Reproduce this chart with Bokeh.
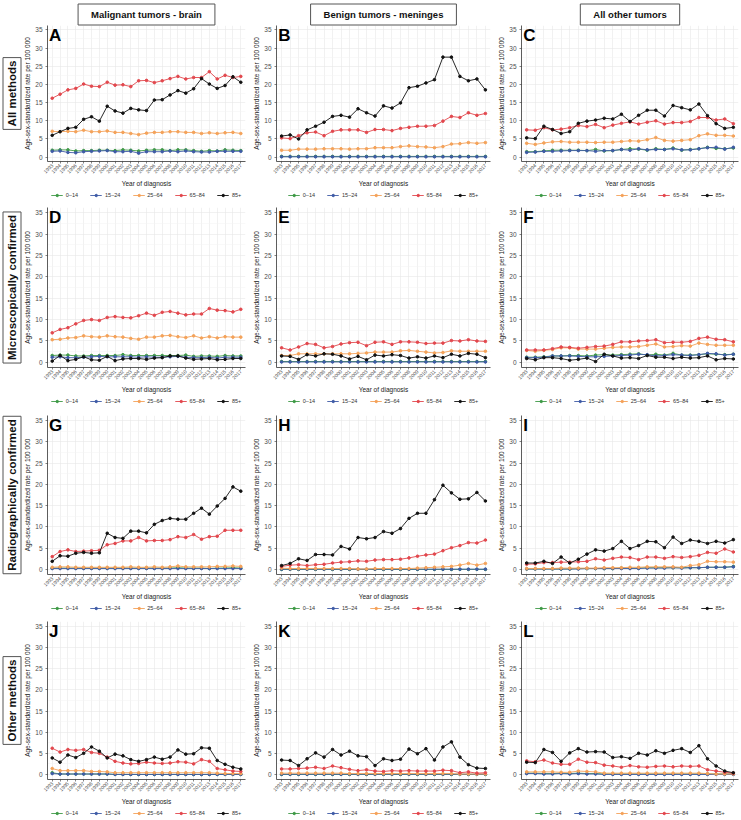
import math
from bokeh.plotting import figure
from bokeh.models import Range1d, FixedTicker, Legend, LegendItem, Label, Title
from bokeh.layouts import column, row
from bokeh.embed import file_html
from bokeh.resources import INLINE

years = list(range(1993, 2018))
age_groups = ["0\u201314", "15\u201324", "25\u201364", "65\u201384", "85+"]
age_colors = ["#3f9a47", "#3f5ba6", "#f4a259", "#e2474d", "#111111"]
col_titles = ["Malignant tumors - brain", "Benign tumors - meninges", "All other tumors"]
row_titles = ["All methods", "Microscopically confirmed", "Radiographically confirmed", "Other methods"]
panel_letters = ["A", "B", "C", "D", "E", "F", "G", "H", "I", "J", "K", "L"]
y_ticks = [0, 5, 10, 15, 20, 25, 30, 35]
y_minor = [2.5, 7.5, 12.5, 17.5, 22.5, 27.5, 32.5]

# ---- Panel A: malignant brain, all methods
A_0_14 = [1.9, 2.0, 2.0, 1.7, 1.8, 1.8, 1.9, 1.9, 1.8, 2.0, 1.9, 1.7, 1.9, 2.0, 2.0, 1.8, 2.0, 2.0, 1.8, 1.6, 1.8, 1.7, 2.0, 1.9, 1.8]
A_15_24 = [1.6, 1.7, 1.3, 1.2, 1.5, 1.6, 1.7, 1.8, 1.5, 1.5, 1.6, 1.1, 1.5, 1.5, 1.5, 1.7, 1.5, 1.7, 1.5, 1.4, 1.4, 1.6, 1.6, 1.6, 1.6]
A_25_64 = [7.1, 7.0, 7.1, 7.0, 7.4, 7.0, 7.0, 7.2, 6.8, 6.8, 6.5, 6.2, 6.6, 6.8, 6.8, 7.0, 7.0, 6.8, 6.8, 6.5, 6.7, 6.5, 6.7, 6.8, 6.5]
A_65_84 = [16.2, 17.3, 18.5, 18.9, 20.1, 19.5, 19.4, 20.6, 19.8, 19.9, 19.4, 21.0, 21.1, 20.5, 21.0, 21.6, 22.2, 21.5, 21.9, 21.9, 23.5, 21.5, 22.5, 21.9, 22.2]
A_85 = [6.0, 7.0, 7.9, 8.2, 10.4, 11.1, 9.9, 14.0, 12.7, 12.1, 13.4, 13.0, 12.8, 15.7, 15.8, 17.1, 18.3, 17.6, 18.8, 21.6, 20.1, 18.9, 19.7, 22.1, 20.6]

# ---- Panel B: benign meninges, all methods
B_0_14 = [0.2] * 25
B_15_24 = [0.1] * 25
B_25_64 = [1.9, 1.9, 2.2, 2.2, 2.2, 2.3, 2.3, 2.3, 2.2, 2.3, 2.3, 2.6, 2.6, 2.6, 2.9, 3.1, 2.9, 2.8, 2.6, 2.9, 3.6, 3.7, 4.0, 3.8, 4.0]
B_65_84 = [5.3, 5.1, 5.9, 6.7, 6.9, 5.9, 7.1, 7.5, 7.5, 7.5, 6.8, 7.6, 7.6, 7.3, 7.9, 8.2, 8.5, 8.5, 8.7, 9.9, 11.2, 10.9, 12.2, 11.5, 12.0]
B_85 = [5.8, 6.1, 5.0, 7.5, 8.5, 9.6, 11.2, 11.5, 11.0, 13.3, 12.2, 11.3, 14.1, 13.5, 14.9, 19.1, 19.5, 20.4, 21.3, 27.5, 27.5, 22.2, 21.0, 21.5, 18.5]

# ---- Panel C: all other tumors, all methods
C_0_14 = [1.5, 1.5, 1.7, 1.9, 1.9, 1.9, 1.9, 1.8, 2.1, 1.7, 1.8, 2.1, 2.3, 2.2, 1.9, 2.3, 2.1, 2.5, 1.9, 2.1, 2.3, 2.7, 2.4, 2.3, 2.5]
C_15_24 = [1.3, 1.4, 1.6, 1.6, 1.7, 1.8, 1.8, 1.8, 1.6, 1.8, 1.8, 2.1, 1.9, 2.3, 2.0, 2.1, 2.1, 2.3, 2.0, 2.0, 2.3, 2.6, 2.7, 2.2, 2.7]
C_25_64 = [3.8, 3.5, 3.9, 4.2, 4.3, 4.1, 4.1, 4.1, 4.0, 4.1, 4.1, 4.3, 4.5, 4.4, 4.8, 5.4, 4.6, 4.4, 4.6, 4.8, 5.9, 6.4, 6.0, 6.0, 5.8]
C_65_84 = [7.5, 7.4, 8.1, 7.5, 7.7, 8.1, 8.7, 8.4, 9.0, 8.1, 8.8, 9.3, 9.7, 9.1, 9.6, 10.0, 9.1, 9.5, 9.5, 9.8, 10.9, 10.9, 10.2, 10.5, 9.2]
C_85 = [5.3, 5.1, 8.5, 7.6, 6.5, 7.0, 9.3, 9.9, 10.2, 10.7, 10.5, 11.8, 9.8, 11.5, 12.9, 12.9, 11.3, 14.2, 13.6, 13.0, 14.6, 11.4, 9.2, 7.9, 8.2]

# ---- Panel D: malignant brain, microscopically confirmed
D_0_14 = [1.6, 1.7, 1.7, 1.5, 1.5, 1.6, 1.6, 1.6, 1.6, 1.8, 1.6, 1.6, 1.6, 1.6, 1.6, 1.6, 1.6, 1.7, 1.4, 1.5, 1.5, 1.4, 1.6, 1.5, 1.5]
D_15_24 = [1.2, 1.3, 1.1, 1.1, 1.2, 1.3, 1.4, 1.3, 1.3, 1.3, 1.3, 1.2, 1.3, 1.2, 1.2, 1.3, 1.4, 1.2, 1.1, 1.1, 1.2, 1.0, 1.2, 1.2, 1.2]
D_25_64 = [5.3, 5.4, 5.7, 5.8, 6.2, 6.0, 5.9, 6.2, 6.0, 5.9, 5.6, 5.4, 5.9, 5.9, 6.2, 6.3, 6.0, 5.8, 6.2, 5.7, 6.0, 5.7, 6.0, 5.9, 5.9]
D_65_84 = [6.9, 7.7, 8.1, 9.0, 9.8, 10.0, 9.8, 10.5, 10.7, 10.5, 10.4, 10.9, 11.5, 11.0, 11.7, 11.9, 11.5, 11.1, 11.3, 11.3, 12.6, 12.2, 12.1, 11.8, 12.4]
D_85 = [0.3, 1.6, 0.4, 0.7, 1.3, 0.6, 0.5, 1.4, 0.4, 0.8, 0.9, 0.9, 0.7, 1.0, 1.1, 1.5, 1.5, 1.0, 0.7, 0.8, 0.9, 0.6, 0.7, 0.9, 0.9]

# ---- Panel E: benign meninges, microscopically confirmed
E_0_14 = [0.2] * 25
E_15_24 = [0.1] * 25
E_25_64 = [1.6, 1.6, 2.0, 2.0, 2.0, 2.0, 2.0, 2.0, 2.0, 2.1, 2.2, 2.4, 2.4, 2.4, 2.7, 2.8, 2.6, 2.4, 2.2, 2.3, 2.7, 2.6, 2.6, 2.6, 2.6]
E_65_84 = [3.4, 2.9, 3.6, 4.4, 4.2, 3.4, 3.7, 4.3, 4.6, 4.7, 3.9, 4.7, 4.8, 4.2, 4.8, 4.8, 4.7, 4.4, 4.5, 4.5, 5.1, 5.0, 5.3, 5.0, 4.9]
E_85 = [1.5, 1.4, 0.7, 1.8, 1.5, 2.0, 1.9, 1.5, 0.8, 1.4, 0.6, 1.7, 1.5, 1.8, 1.6, 1.0, 1.3, 1.0, 1.5, 1.1, 1.9, 1.5, 2.1, 1.9, 1.1]

# ---- Panel F: all other tumors, microscopically confirmed
F_0_14 = [1.2, 1.2, 1.3, 1.5, 1.5, 1.6, 1.6, 1.5, 1.7, 1.8, 1.7, 1.8, 1.9, 2.0, 1.7, 1.9, 1.7, 2.1, 1.7, 1.7, 1.8, 2.0, 1.9, 1.8, 1.9]
F_15_24 = [1.1, 1.1, 1.2, 1.5, 1.5, 1.5, 1.4, 1.3, 1.3, 1.4, 1.5, 1.6, 1.7, 1.9, 1.8, 1.5, 1.6, 1.8, 1.7, 1.6, 1.8, 2.1, 2.0, 1.7, 1.9]
F_25_64 = [2.8, 2.6, 2.8, 3.0, 3.4, 3.4, 3.1, 3.1, 3.1, 3.3, 3.5, 3.6, 3.6, 3.7, 4.0, 4.3, 3.6, 3.7, 3.9, 3.8, 4.5, 4.2, 4.0, 4.0, 4.0]
F_65_84 = [2.9, 2.9, 2.9, 3.2, 3.6, 3.5, 3.3, 3.5, 3.7, 3.8, 4.2, 4.8, 4.8, 5.0, 5.1, 5.3, 4.6, 4.7, 4.7, 4.9, 5.6, 5.9, 5.4, 5.3, 4.8]
F_85 = [0.9, 0.6, 1.1, 1.1, 0.9, 0.5, 0.7, 1.0, 0.2, 1.9, 1.5, 1.0, 1.1, 0.9, 1.6, 1.2, 1.2, 0.9, 1.2, 1.0, 1.1, 1.5, 0.6, 0.9, 0.8]

# ---- Panel G: malignant brain, radiographically confirmed
G_0_14 = [0.3, 0.3, 0.3, 0.3, 0.3, 0.3, 0.3, 0.3, 0.3, 0.3, 0.3, 0.3, 0.3, 0.3, 0.3, 0.3, 0.4, 0.3, 0.3, 0.3, 0.2, 0.3, 0.3, 0.4, 0.3]
G_15_24 = [0.2] * 25
G_25_64 = [0.5, 0.6, 0.6, 0.5, 0.5, 0.5, 0.5, 0.5, 0.5, 0.5, 0.6, 0.5, 0.5, 0.6, 0.5, 0.6, 0.8, 0.6, 0.6, 0.6, 0.6, 0.7, 0.7, 0.8, 0.7]
G_65_84 = [3.0, 4.2, 4.6, 4.2, 4.3, 4.4, 4.5, 5.8, 6.1, 6.7, 6.7, 7.5, 6.7, 6.8, 6.8, 7.0, 7.7, 7.5, 8.2, 7.1, 7.7, 7.8, 9.2, 9.2, 9.2]
G_85 = [1.9, 3.2, 3.1, 3.8, 4.0, 3.8, 3.9, 8.5, 7.5, 7.3, 9.0, 9.0, 8.6, 10.6, 11.5, 12.0, 11.8, 11.8, 13.2, 14.4, 13.0, 14.9, 16.7, 19.4, 18.4]

# ---- Panel H: benign meninges, radiographically confirmed
H_0_14 = [0.0] * 25
H_15_24 = [0.05] * 25
H_25_64 = [0.3, 0.2, 0.2, 0.2, 0.2, 0.2, 0.2, 0.2, 0.2, 0.1, 0.1, 0.2, 0.2, 0.2, 0.2, 0.2, 0.3, 0.4, 0.5, 0.6, 0.7, 1.0, 1.4, 1.0, 1.4]
H_65_84 = [0.7, 1.0, 1.1, 0.9, 1.1, 1.2, 1.5, 1.7, 1.8, 2.0, 1.9, 2.2, 2.3, 2.3, 2.4, 2.7, 3.1, 3.4, 3.6, 4.4, 5.1, 5.6, 6.3, 6.2, 6.9]
H_85 = [0.9, 1.4, 2.5, 2.1, 3.5, 3.5, 3.4, 5.4, 4.8, 7.5, 7.2, 7.5, 8.9, 8.5, 9.6, 12.0, 13.2, 13.2, 16.4, 19.8, 18.0, 16.5, 16.6, 18.1, 16.1]

# ---- Panel I: all other tumors, radiographically confirmed
I_0_14 = [0.1, 0.1, 0.1, 0.1, 0.1, 0.1, 0.2, 0.2, 0.2, 0.2, 0.2, 0.3, 0.3, 0.3, 0.4, 0.4, 0.4, 0.4, 0.4, 0.4, 0.4, 0.5, 0.5, 0.5, 0.7]
I_15_24 = [0.1, 0.1, 0.1, 0.1, 0.1, 0.1, 0.1, 0.2, 0.2, 0.2, 0.2, 0.2, 0.2, 0.2, 0.3, 0.3, 0.3, 0.4, 0.3, 0.4, 0.4, 0.5, 0.5, 0.5, 0.6]
I_25_64 = [0.2, 0.2, 0.2, 0.2, 0.3, 0.3, 0.3, 0.3, 0.3, 0.4, 0.4, 0.4, 0.5, 0.5, 0.6, 0.6, 0.6, 0.6, 0.5, 0.9, 1.1, 1.9, 1.8, 1.8, 1.7]
I_65_84 = [1.2, 1.3, 1.6, 1.6, 1.7, 1.7, 1.8, 1.9, 2.5, 2.2, 2.6, 2.9, 2.8, 2.3, 2.9, 2.9, 2.6, 3.0, 2.8, 3.0, 3.3, 4.0, 3.8, 4.8, 4.1]
I_85 = [1.5, 1.5, 1.9, 1.4, 2.9, 1.5, 2.4, 3.6, 4.6, 4.3, 4.9, 6.6, 4.9, 5.6, 6.6, 6.5, 5.1, 7.6, 6.1, 6.9, 6.6, 6.1, 6.6, 6.2, 7.0]

# ---- Panel J: malignant brain, other methods
J_0_14 = [0.4, 0.1, 0.1, 0.1, 0.1, 0.1, 0.1, 0.1, 0.0, 0.0, 0.0, 0.0, 0.0, 0.0, 0.0, 0.0, 0.0, 0.0, 0.0, 0.0, 0.0, 0.0, 0.0, 0.0, 0.0]
J_15_24 = [0.2, 0.1, 0.1, 0.1, 0.1, 0.1, 0.1, 0.1, 0.0, 0.0, 0.0, 0.0, 0.0, 0.0, 0.0, 0.0, 0.0, 0.0, 0.0, 0.0, 0.0, 0.0, 0.0, 0.0, 0.0]
J_25_64 = [1.4, 0.9, 0.9, 0.9, 0.9, 0.7, 0.7, 0.6, 0.4, 0.4, 0.4, 0.4, 0.4, 0.4, 0.4, 0.4, 0.4, 0.4, 0.4, 0.4, 0.4, 0.3, 0.2, 0.2, 0.2]
J_65_84 = [6.2, 5.3, 5.9, 5.7, 5.9, 5.2, 5.0, 4.1, 3.1, 2.7, 2.5, 2.6, 2.9, 2.7, 2.6, 2.7, 3.0, 2.9, 2.5, 3.5, 3.1, 1.4, 1.1, 0.8, 0.7]
J_85 = [3.9, 2.9, 4.6, 4.0, 5.0, 6.5, 5.5, 3.9, 4.8, 4.4, 3.5, 3.1, 3.5, 4.1, 3.6, 4.1, 5.8, 4.8, 4.9, 6.3, 6.2, 3.3, 2.4, 1.7, 1.3]

# ---- Panel K: benign meninges, other methods
K_0_14 = [0.0] * 25
K_15_24 = [0.05] * 25
K_25_64 = [0.3, 0.3, 0.3, 0.3, 0.3, 0.3, 0.3, 0.3, 0.2, 0.2, 0.2, 0.2, 0.2, 0.2, 0.2, 0.2, 0.2, 0.2, 0.2, 0.2, 0.2, 0.1, 0.1, 0.1, 0.1]
K_65_84 = [1.3, 1.3, 1.4, 1.5, 1.7, 1.4, 2.0, 1.6, 1.2, 0.9, 1.1, 0.8, 0.7, 0.9, 0.8, 0.9, 0.8, 0.8, 0.8, 1.0, 0.9, 0.4, 0.6, 0.3, 0.4]
K_85 = [3.4, 3.3, 2.1, 3.7, 5.1, 4.1, 5.9, 4.6, 5.5, 4.4, 4.2, 2.1, 3.7, 3.3, 3.6, 6.0, 4.9, 6.1, 3.4, 6.5, 7.7, 4.1, 2.3, 1.5, 1.4]

# ---- Panel L: all other tumors, other methods
L_0_14 = [0.3, 0.3, 0.2, 0.2, 0.3, 0.2, 0.3, 0.2, 0.2, 0.1, 0.1, 0.1, 0.1, 0.1, 0.1, 0.1, 0.1, 0.1, 0.1, 0.1, 0.1, 0.1, 0.1, 0.1, 0.1]
L_15_24 = [0.2, 0.2, 0.1, 0.1, 0.2, 0.1, 0.2, 0.1, 0.1, 0.0, 0.0, 0.0, 0.0, 0.0, 0.0, 0.0, 0.0, 0.0, 0.0, 0.0, 0.0, 0.0, 0.0, 0.0, 0.0]
L_25_64 = [0.6, 0.6, 0.6, 0.6, 0.5, 0.5, 0.8, 0.7, 0.6, 0.3, 0.3, 0.3, 0.3, 0.3, 0.3, 0.3, 0.3, 0.3, 0.3, 0.3, 0.3, 0.2, 0.1, 0.1, 0.1]
L_65_84 = [3.2, 3.0, 3.4, 2.7, 2.4, 2.4, 3.6, 2.9, 2.8, 2.2, 2.0, 1.7, 2.1, 1.8, 1.7, 1.9, 2.0, 1.8, 2.0, 1.9, 2.0, 1.1, 0.8, 0.5, 0.3]
L_85 = [2.9, 2.8, 5.9, 5.2, 3.1, 5.1, 6.1, 5.3, 5.4, 5.3, 4.0, 4.2, 3.8, 5.0, 4.6, 5.6, 5.0, 5.7, 6.1, 5.2, 6.8, 3.7, 2.0, 0.8, 0.4]

panel_series = [
    [A_0_14, A_15_24, A_25_64, A_65_84, A_85],
    [B_0_14, B_15_24, B_25_64, B_65_84, B_85],
    [C_0_14, C_15_24, C_25_64, C_65_84, C_85],
    [D_0_14, D_15_24, D_25_64, D_65_84, D_85],
    [E_0_14, E_15_24, E_25_64, E_65_84, E_85],
    [F_0_14, F_15_24, F_25_64, F_65_84, F_85],
    [G_0_14, G_15_24, G_25_64, G_65_84, G_85],
    [H_0_14, H_15_24, H_25_64, H_65_84, H_85],
    [I_0_14, I_15_24, I_25_64, I_65_84, I_85],
    [J_0_14, J_15_24, J_25_64, J_65_84, J_85],
    [K_0_14, K_15_24, K_25_64, K_65_84, K_85],
    [L_0_14, L_15_24, L_25_64, L_65_84, L_85],
]

FONT = "Liberation Sans"
col_widths = [250, 245, 245]
col_border_left = [44, 21, 23]
col_border_right = [5, 5, 2]
main_heights = [190, 196, 197, 195]
legend_height = 10
row_border_top = [25, 7, 9, 8]
BOTTOM = 26


def make_panel(r, c):
    idx = r * 3 + c
    series = panel_series[idx]
    p = figure(width=col_widths[c], height=main_heights[r],
               x_range=Range1d(1992.4, 2017.6), y_range=Range1d(-1.2, 36.2),
               output_backend="svg", toolbar_location=None,
               title=(col_titles[c] if r == 0 else None))
    p.min_border_left = col_border_left[c]
    p.min_border_right = col_border_right[c]
    p.min_border_top = row_border_top[r]
    p.min_border_bottom = BOTTOM
    p.outline_line_color = None
    p.background_fill_color = "white"
    p.border_fill_color = "white"

    if r == 0:
        t = p.title
        t.align = "center"
        t.text_font = FONT
        t.text_font_size = "9.5px"
        t.text_font_style = "bold"
        t.text_color = "#111111"
        t.border_line_color = "#555555"
        t.border_line_width = 1
        t.background_fill_color = "white"
        t.padding = dict(left=13, right=13, top=5, bottom=5)
        t.standoff = 1
        t.offset = 0

    for ax in (p.xaxis[0], p.yaxis[0]):
        ax.axis_line_color = "#333333"
        ax.axis_line_width = 0.8
        ax.major_tick_line_color = "#333333"
        ax.major_tick_line_width = 0.6
        ax.major_tick_out = 2
        ax.major_tick_in = 0
        ax.minor_tick_line_color = None
        ax.major_label_text_font = FONT
        ax.major_label_text_color = "#4d4d4d"
        ax.axis_label_text_font = FONT
        ax.axis_label_text_font_style = "normal"
        ax.axis_label_text_color = "#222222"
        ax.axis_label_text_font_size = "6.5px"
        ax.axis_label_standoff = 2
        ax.major_label_standoff = 1

    p.xaxis.ticker = FixedTicker(ticks=years)
    p.xaxis.major_label_overrides = {y: str(y) for y in years}
    p.xaxis.major_label_orientation = math.pi / 4
    p.xaxis.major_label_text_font_size = "5px"
    p.xaxis.axis_label = "Year of diagnosis"

    yt = FixedTicker(ticks=y_ticks, minor_ticks=y_minor)
    p.yaxis.ticker = yt
    p.yaxis.major_label_text_font_size = "6.5px"
    p.yaxis.axis_label = "Age-sex-standardized rate per 100 000"
    p.yaxis.axis_label_standoff = 1

    p.xgrid.grid_line_color = "#e8e8e8"
    p.xgrid.grid_line_width = 0.6
    p.ygrid.ticker = yt
    p.ygrid.grid_line_color = "#e8e8e8"
    p.ygrid.grid_line_width = 0.6
    p.ygrid.minor_grid_line_color = "#f3f3f3"
    p.ygrid.minor_grid_line_width = 0.5

    for col, vals in zip(age_colors, series):
        p.line(years, vals, line_color=col, line_width=0.9)
        p.scatter(years, vals, size=2.6, fill_color=col, line_color=col)

    p.add_layout(Label(x=1992.6, y=36.2, text=panel_letters[idx],
                       text_font=FONT, text_font_size="17px",
                       text_font_style="bold", text_color="black",
                       text_baseline="top", text_align="left"))

    if c == 0:
        rt = Title(text=row_titles[r], align="center", text_font=FONT,
                   text_font_size="11.5px", text_font_style="bold",
                   text_color="#111111", border_line_color="#555555",
                   border_line_width=1, background_fill_color="white",
                   padding=dict(left=3, right=3, top=3, bottom=3), standoff=1)
        p.add_layout(rt, "left")

    # legend strip beneath the panel (its series are hidden; only the key shows)
    q = figure(width=col_widths[c], height=legend_height,
               x_range=Range1d(1992.4, 2017.6), y_range=Range1d(-1.2, 36.2),
               x_axis_location=None, y_axis_location=None,
               output_backend="svg", toolbar_location=None, title=None)
    q.min_border_left = col_border_left[c]
    q.min_border_right = col_border_right[c]
    q.min_border_top = 0
    q.min_border_bottom = 0
    q.outline_line_color = None
    q.xgrid.visible = False
    q.ygrid.visible = False
    items = []
    for g, col, vals in zip(age_groups, age_colors, series):
        lr = q.line(years, vals, line_color=col, line_width=0.9, visible=False)
        sr = q.scatter(years, vals, size=2.6, fill_color=col, line_color=col, visible=False)
        items.append(LegendItem(label=g, renderers=[lr, sr]))
    leg = Legend(items=items, orientation="horizontal", location="center",
                 label_text_font=FONT, label_text_font_size="5.5px",
                 label_text_color="#333333",
                 glyph_width=12, glyph_height=6, label_height=6, label_width=0,
                 label_standoff=3, spacing=12, padding=0, margin=0,
                 border_line_color=None, background_fill_alpha=0,
                 inactive_fill_alpha=0)
    q.add_layout(leg, "center")
    return column(p, q, spacing=0)


rows = []
for r in range(4):
    rows.append(row(*[make_panel(r, c) for c in range(3)], spacing=0))
layout = column(*rows, spacing=0)

open("out.html", "w").write(file_html(layout, INLINE))
